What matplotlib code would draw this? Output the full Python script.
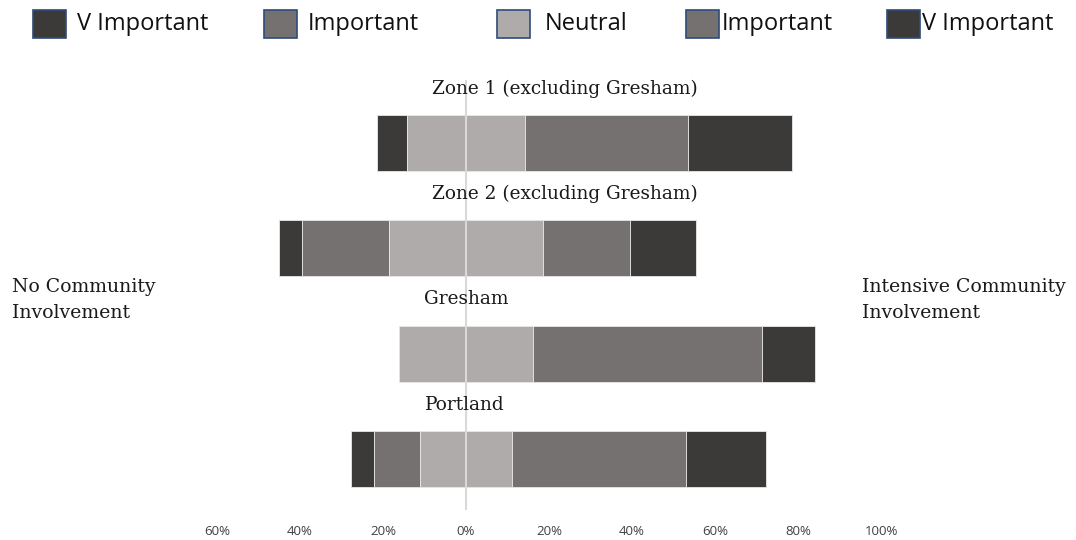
import numpy as np
import matplotlib
matplotlib.use("Agg")
import matplotlib.pyplot as plt
from matplotlib.patches import Rectangle

# dados (percentuais)
categorias = ["Zone 1 (excluding Gresham)", "Zone 2 (excluding Gresham)", "Gresham", "Portland"]
muito_imp_neg = np.array([7.2, 5.5, 0.0, 5.5])
imp_neg = np.array([0.0, 21.0, 0.0, 11.0])
neutro = np.array([28.6, 37.0, 32.3, 22.4])
imp_pos = np.array([39.3, 21.0, 55.2, 41.7])
muito_imp_pos = np.array([25.0, 16.0, 12.8, 19.5])

legenda = ["V Important", "Important", "Neutral", "Important", "V Important"]
ticks = [-60, -40, -20, 0, 20, 40, 60, 80, 100]

ESCURO = "#3b3a39"
MEDIO = "#767171"
CLARO = "#afabab"
cores = [ESCURO, MEDIO, CLARO, MEDIO, ESCURO]

fig = plt.figure(figsize=(10.76, 5.40), dpi=100)
ax = fig.add_axes([0, 30 / 540, 1, 440 / 540])

y = np.arange(len(categorias))
series = [muito_imp_neg, imp_neg, neutro, imp_pos, muito_imp_pos]
inicio = -(neutro / 2 + imp_neg + muito_imp_neg)
for valores, cor in zip(series, cores):
    ax.barh(y, valores, left=inicio, height=0.53, color=cor,
            edgecolor="#e8e8e8", linewidth=0.6, zorder=2)
    inicio = inicio + valores

ax.axvline(0, ymin=0, ymax=0.975, color="#d9d9d9", linewidth=1.5, zorder=3)

ax.set_xlim(-466 / 4.15, 610 / 4.15)
ax.set_ylim(3.485, -0.693)
ax.set_yticks([])
ax.set_xticks(ticks)
ax.set_xticklabels([f"{abs(t)}%" for t in ticks], fontsize=9.5,
                   family="Open Sans", color="#404040")
ax.tick_params(axis="x", length=0, pad=11)
for s in ax.spines.values():
    s.set_visible(False)

# rotulos das categorias acima das barras
pos_rotulo = [-8.2, -8.2, -10.0, -10.0]
for i, (nome, xr) in enumerate(zip(categorias, pos_rotulo)):
    ax.text(xr, i - 0.43, nome, ha="left", va="bottom", fontsize=13.3,
            family="DejaVu Serif", color="#1a1a1a")

fig.text(12 / 1076, 1 - 300 / 540, "No Community\nInvolvement", ha="left",
         va="center", fontsize=13.6, family="DejaVu Serif", color="#1a1a1a",
         linespacing=1.5)
fig.text(862 / 1076, 1 - 300 / 540, "Intensive Community\nInvolvement", ha="left",
         va="center", fontsize=13.6, family="DejaVu Serif", color="#1a1a1a",
         linespacing=1.5)

# legenda manual no topo
x_caixa = [33, 264, 497, 686, 887]
x_texto = [77, 308, 545, 722, 922]
for nome, cor, xc, xt in zip(legenda, cores, x_caixa, x_texto):
    fig.patches.append(Rectangle((xc / 1076, 1 - 38 / 540), 33 / 1076, 28 / 540,
                                 transform=fig.transFigure, facecolor=cor,
                                 edgecolor="#2f4b7c", linewidth=1.2))
    fig.text(xt / 1076, 1 - 24 / 540, nome, ha="left", va="center",
             fontsize=17, family="Open Sans", color="#111111")

plt.savefig("out.png", dpi=100)
